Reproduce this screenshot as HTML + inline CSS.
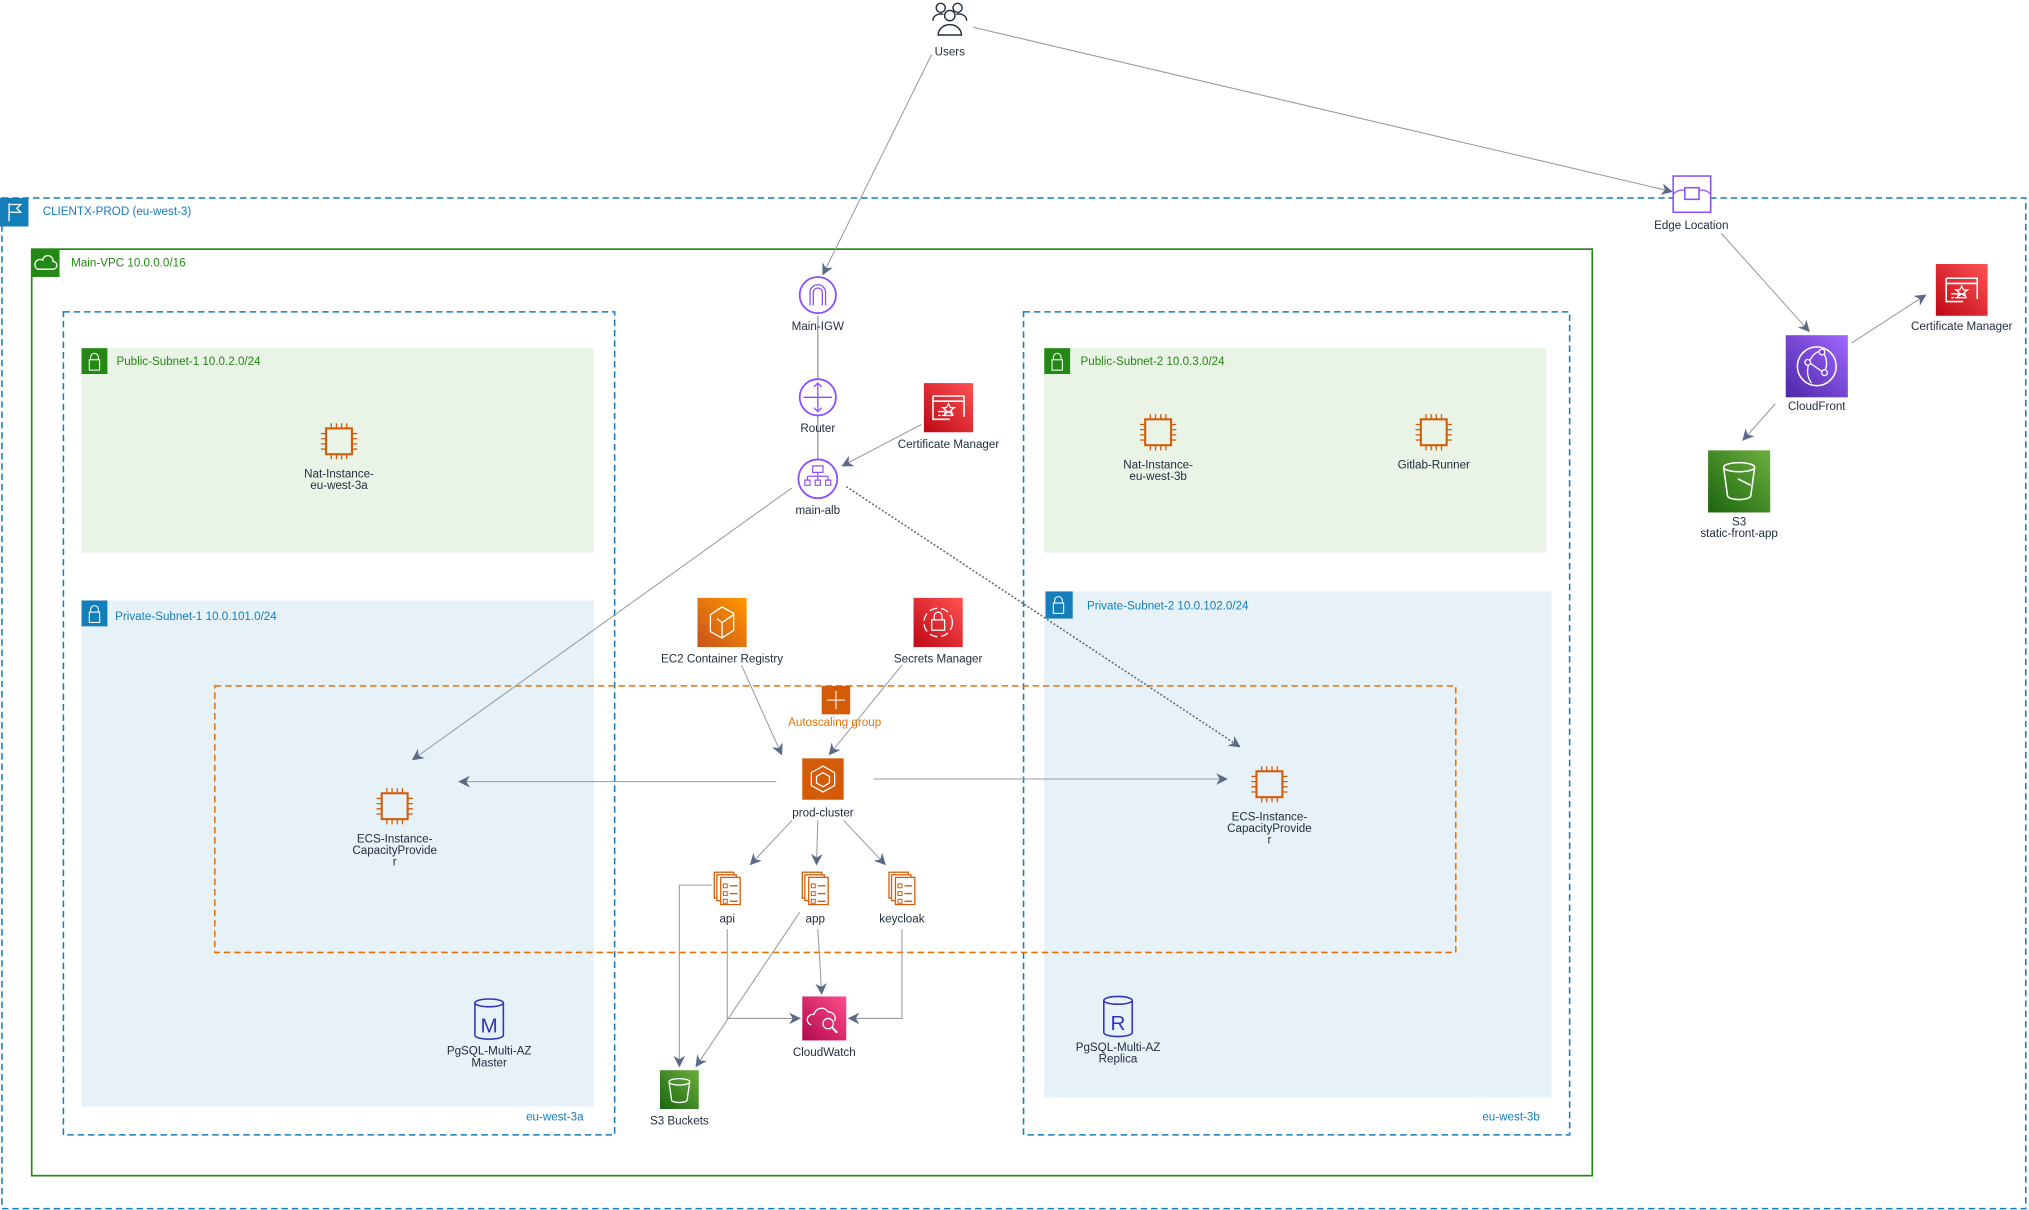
<!DOCTYPE html>
<html><head><meta charset="utf-8"><style>
html,body{margin:0;padding:0;background:#fff;}
svg{display:block;}
text{font-family:"Liberation Sans",Arial,sans-serif;font-size:9px;fill:#232F3E;}
.c{text-anchor:middle;}
.e{stroke:#999;stroke-width:0.8;fill:none;}
</style></head><body>
<svg width="2029" height="1210" viewBox="0 0 1568 935" xmlns="http://www.w3.org/2000/svg">
<defs>
<marker id="a" viewBox="0 0 10 10" refX="9" refY="5" markerWidth="9" markerHeight="9" orient="auto" markerUnits="userSpaceOnUse"><path d="M0,0 L10,5 L0,10 L3,5 z" fill="#5A6B86"/></marker>
<linearGradient id="gor" x1="0" y1="1" x2="1" y2="0"><stop offset="0" stop-color="#C8511B"/><stop offset="1" stop-color="#FF9900"/></linearGradient>
<linearGradient id="gred" x1="0" y1="1" x2="1" y2="0"><stop offset="0" stop-color="#BD0816"/><stop offset="1" stop-color="#FF5252"/></linearGradient>
<linearGradient id="ggr" x1="0" y1="1" x2="1" y2="0"><stop offset="0" stop-color="#1B660F"/><stop offset="1" stop-color="#6CAE3E"/></linearGradient>
<linearGradient id="gpu" x1="0" y1="1" x2="1" y2="0"><stop offset="0" stop-color="#4D27A8"/><stop offset="1" stop-color="#A166FF"/></linearGradient>
<linearGradient id="gpk" x1="0" y1="1" x2="1" y2="0"><stop offset="0" stop-color="#B0084D"/><stop offset="1" stop-color="#FF4F8B"/></linearGradient>
<g id="chip"><rect x="-10" y="-10" width="20" height="20" fill="none" stroke="#D45B07" stroke-width="1.6"/>
<path d="M-6,-10v-4M-2,-10v-4M2,-10v-4M6,-10v-4M-6,10v4M-2,10v4M2,10v4M6,10v4M-10,-6h-4M-10,-2h-4M-10,2h-4M-10,6h-4M10,-6h4M10,-2h4M10,2h4M10,6h4" stroke="#D45B07" stroke-width="1"/></g>
<g id="task"><rect x="-10" y="-12" width="15" height="20" fill="#fff" stroke="#D45B07"/><rect x="-8" y="-10" width="15" height="20" fill="#fff" stroke="#D45B07"/><rect x="-5" y="-8" width="15" height="21" fill="#fff" stroke="#D45B07"/>
<path d="M-3,-3h3v3h-3zM-3,3h3v3h-3zM-3,9h3v3h-3z" fill="none" stroke="#D45B07" stroke-width="0.8"/><path d="M2,-1.5h6M2,4.5h6M2,10.5h6" stroke="#D45B07"/></g>
<g id="cert"><path d="M-12,-9h24v16M-12,-9v18h13M-12,-5h24" fill="none" stroke="#fff" stroke-width="1.2"/><path d="M0,-3l1.5,3h3l-2.5,2l1,3l-3,-2l-3,2l1,-3l-2.5,-2h3z" fill="none" stroke="#fff"/><path d="M-8,6h2M-5,6h9M-8,3h10" stroke="#fff"/></g>
</defs>

<!-- containers -->
<rect x="1.5" y="153" width="1564" height="781" fill="none" stroke="#147EBA" stroke-dasharray="5,3" stroke-width="1.2"/>
<rect x="0" y="153" width="22" height="22" fill="#147EBA"/>
<path d="M7,157v14M7,158h9l-3,3l3,3h-9" fill="none" stroke="#fff"/>
<text x="33" y="166" style="fill:#147EBA">CLIENTX-PROD (eu-west-3)</text>

<rect x="24.5" y="192.5" width="1206" height="716" fill="none" stroke="#248814" stroke-width="1.3"/>
<rect x="24" y="192" width="22" height="22" fill="#248814"/>
<path d="M29,208h12a3,3 0 0 0 0,-6a4,4 0 0 0 -8,-1a3,3 0 0 0 -4,7z" fill="none" stroke="#fff"/>
<text x="55" y="206" style="fill:#248814">Main-VPC 10.0.0.0/16</text>

<rect x="49" y="241" width="426" height="636" fill="none" stroke="#147EBA" stroke-dasharray="5,3" stroke-width="1.2"/>
<text x="451" y="866" style="fill:#147EBA;text-anchor:end">eu-west-3a</text>
<rect x="791" y="241" width="422" height="636" fill="none" stroke="#147EBA" stroke-dasharray="5,3" stroke-width="1.2"/>
<text x="1190" y="866" style="fill:#147EBA;text-anchor:end">eu-west-3b</text>

<rect x="63" y="269" width="396" height="158" fill="#E9F3E6"/>
<rect x="63" y="269" width="20" height="20" fill="#248814"/>
<rect x="69" y="278" width="8" height="8" fill="none" stroke="#fff" stroke-width="0.8"/><path d="M70,278v-2a3,3 0 0 1 6,0v2" fill="none" stroke="#fff" stroke-width="0.8"/>
<text x="90" y="282" style="fill:#248814">Public-Subnet-1 10.0.2.0/24</text>

<rect x="807" y="269" width="388" height="158" fill="#E9F3E6"/>
<rect x="807" y="269" width="20" height="20" fill="#248814"/>
<rect x="813" y="278" width="8" height="8" fill="none" stroke="#fff" stroke-width="0.8"/><path d="M814,278v-2a3,3 0 0 1 6,0v2" fill="none" stroke="#fff" stroke-width="0.8"/>
<text x="835" y="282" style="fill:#248814">Public-Subnet-2 10.0.3.0/24</text>

<rect x="63" y="464" width="396" height="391" fill="#E6F2F8"/>
<rect x="63" y="464" width="20" height="20" fill="#147EBA"/>
<rect x="69" y="473" width="8" height="8" fill="none" stroke="#fff" stroke-width="0.8"/><path d="M70,473v-2a3,3 0 0 1 6,0v2" fill="none" stroke="#fff" stroke-width="0.8"/>
<text x="89" y="479" style="fill:#147EBA">Private-Subnet-1 10.0.101.0/24</text>

<rect x="807" y="457" width="392" height="391" fill="#E6F2F8"/>
<rect x="808" y="457" width="21" height="21" fill="#147EBA"/>
<rect x="814" y="466" width="8" height="8" fill="none" stroke="#fff" stroke-width="0.8"/><path d="M815,466v-2a3,3 0 0 1 6,0v2" fill="none" stroke="#fff" stroke-width="0.8"/>
<text x="840" y="471" style="fill:#147EBA">Private-Subnet-2 10.0.102.0/24</text>

<rect x="166" y="530" width="959" height="206" fill="none" stroke="#ED7100" stroke-dasharray="5,3" stroke-width="1.2"/>
<rect x="635" y="530" width="22" height="22" fill="#D45B07"/>
<path d="M646,534v14M639,541h14" stroke="#fff" stroke-width="0.8"/>
<text x="645" y="561" class="c" style="fill:#ED7100">Autoscaling group</text>

<!-- edges -->
<line class="e" x1="720" y1="42" x2="636" y2="212" marker-end="url(#a)"/>
<line class="e" x1="752" y1="21" x2="1292" y2="148" marker-end="url(#a)"/>
<line x1="632" y1="244" x2="632" y2="356" stroke="#aaa" stroke-width="1.2"/>
<line class="e" x1="712" y1="328" x2="651" y2="360" marker-end="url(#a)"/>
<line class="e" x1="612" y1="377" x2="319" y2="587" marker-end="url(#a)"/>
<line x1="654" y1="376" x2="958" y2="577" stroke="#666" stroke-width="1.2" stroke-dasharray="1.5,1.5" marker-end="url(#a)"/>
<line class="e" x1="573" y1="514" x2="604" y2="583" marker-end="url(#a)"/>
<line class="e" x1="697" y1="514" x2="641" y2="583" marker-end="url(#a)"/>
<line class="e" x1="600" y1="604" x2="355" y2="604" marker-end="url(#a)"/>
<line class="e" x1="675" y1="602" x2="948" y2="602" marker-end="url(#a)"/>
<line class="e" x1="612" y1="634" x2="580" y2="668" marker-end="url(#a)"/>
<line class="e" x1="632" y1="634" x2="631" y2="668" marker-end="url(#a)"/>
<line class="e" x1="652" y1="634" x2="684" y2="668" marker-end="url(#a)"/>
<polyline class="e" points="550,684 525,684 525,824" marker-end="url(#a)"/>
<polyline class="e" points="562,718 562,787 618,787" marker-end="url(#a)"/>
<line class="e" x1="618" y1="705" x2="538" y2="824" marker-end="url(#a)"/>
<line class="e" x1="632" y1="718" x2="635" y2="768" marker-end="url(#a)"/>
<polyline class="e" points="697,718 697,787 656,787" marker-end="url(#a)"/>
<line class="e" x1="1330" y1="180" x2="1398" y2="256" marker-end="url(#a)"/>
<line class="e" x1="1431" y1="265" x2="1488" y2="228" marker-end="url(#a)"/>
<line class="e" x1="1372" y1="312" x2="1347" y2="340" marker-end="url(#a)"/>

<!-- Users -->
<g fill="none" stroke="#232F3E" stroke-width="1.1">
<circle cx="727" cy="6" r="3.5"/><circle cx="740" cy="6" r="3.5"/><circle cx="734" cy="12" r="4"/>
<path d="M721,16a6,5 0 0 1 8,-5M747,16a6,5 0 0 0 -8,-5M725,27a9,8 0 0 1 18,0z"/></g>
<text x="734" y="43" class="c">Users</text>

<!-- IGW, Router, ALB -->
<g fill="#fff" stroke="#8C4FFF" stroke-width="1.4">
<circle cx="632" cy="228" r="14"/><circle cx="632" cy="307" r="14"/><circle cx="632" cy="370" r="15"/></g>
<path d="M626,236v-10a6,6 0 0 1 12,0v10M628.5,236v-10a3.5,3.5 0 0 1 7,0v10" fill="none" stroke="#8C4FFF"/>
<path d="M632,296v22M621,307h22M629,299l3,-3l3,3M629,315l3,3l3,-3" fill="none" stroke="#8C4FFF"/>
<path d="M628,360h8v5h-8zM632,365v3M624,368h16M624,368v3M632,368v3M640,368v3M622,371h4v4h-4zM630,371h4v4h-4zM638,371h4v4h-4z" fill="none" stroke="#8C4FFF" stroke-width="0.9"/>
<text x="632" y="255" class="c">Main-IGW</text>
<text x="632" y="334" class="c">Router</text>
<text x="632" y="397" class="c">main-alb</text>

<!-- Cert manager inner -->
<rect x="714" y="296" width="38" height="38" fill="url(#gred)"/>
<use href="#cert" x="733" y="315"/>
<text x="733" y="346" class="c">Certificate Manager</text>

<!-- ECR, Secrets -->
<rect x="539" y="462" width="38" height="38" fill="url(#gor)"/>
<path d="M549,475l9,-6l9,5v13l-9,6l-9,-5zM558,493v-12l9,-6M558,481l-4,-3" fill="none" stroke="#fff"/>
<text x="558" y="512" class="c">EC2 Container Registry</text>
<rect x="706" y="462" width="38" height="38" fill="url(#gred)"/>
<circle cx="725" cy="481" r="11" fill="none" stroke="#fff" stroke-dasharray="6,3"/>
<rect x="720" y="479" width="10" height="8" fill="none" stroke="#fff"/><path d="M722,479v-3a3,3 0 0 1 6,0v3" fill="none" stroke="#fff"/>
<text x="725" y="512" class="c">Secrets Manager</text>

<!-- prod-cluster -->
<rect x="620" y="586" width="32" height="32" fill="#D45B07"/>
<path d="M636,592l9,5v10l-9,5l-9,-5v-10zM636,597l5,3v5l-5,3l-5,-3v-5z" fill="none" stroke="#fff"/>
<text x="636" y="631" class="c">prod-cluster</text>

<use href="#task" x="562" y="686"/><text x="562" y="713" class="c">api</text>
<use href="#task" x="630" y="686"/><text x="630" y="713" class="c">app</text>
<use href="#task" x="697" y="686"/><text x="697" y="713" class="c">keycloak</text>

<!-- CloudWatch -->
<rect x="620" y="770" width="34" height="34" fill="url(#gpk)"/>
<path d="M627,792a4,4 0 0 1 2,-8a6,6 0 0 1 11,-2a5,5 0 0 1 5,7" fill="none" stroke="#fff"/><circle cx="640" cy="791" r="4" fill="none" stroke="#fff"/><path d="M643,794l4,4" stroke="#fff" stroke-width="1.5"/>
<text x="637" y="816" class="c">CloudWatch</text>

<!-- S3 buckets -->
<rect x="510" y="827" width="30" height="30" fill="url(#ggr)"/>
<ellipse cx="525" cy="836" rx="8" ry="2.5" fill="none" stroke="#fff"/><path d="M517,836l2,14a6,2 0 0 0 12,0l2,-14" fill="none" stroke="#fff"/>
<text x="525" y="869" class="c">S3 Buckets</text>

<!-- chips -->
<use href="#chip" x="262" y="341"/><text x="262" y="369" class="c">Nat-Instance-</text><text x="262" y="378" class="c">eu-west-3a</text>
<use href="#chip" x="895" y="334"/><text x="895" y="362" class="c">Nat-Instance-</text><text x="895" y="371" class="c">eu-west-3b</text>
<use href="#chip" x="1108" y="334"/><text x="1108" y="362" class="c">Gitlab-Runner</text>
<use href="#chip" x="305" y="623"/><text x="305" y="651" class="c">ECS-Instance-</text><text x="305" y="660" class="c">CapacityProvide</text><text x="305" y="669" class="c">r</text>
<use href="#chip" x="981" y="606"/><text x="981" y="634" class="c">ECS-Instance-</text><text x="981" y="643" class="c">CapacityProvide</text><text x="981" y="652" class="c">r</text>

<!-- DBs -->
<g fill="none" stroke="#3334B9" stroke-width="1.2">
<ellipse cx="378" cy="775" rx="11" ry="3"/><path d="M367,775v25a11,3 0 0 0 22,0v-25"/>
<ellipse cx="864" cy="773" rx="11" ry="3"/><path d="M853,773v25a11,3 0 0 0 22,0v-25"/></g>
<text x="378" y="798" class="c" style="fill:#3334B9;font-size:16px">M</text>
<text x="864" y="796" class="c" style="fill:#3334B9;font-size:16px">R</text>
<text x="378" y="815" class="c">PgSQL-Multi-AZ</text><text x="378" y="824" class="c">Master</text>
<text x="864" y="812" class="c">PgSQL-Multi-AZ</text><text x="864" y="821" class="c">Replica</text>

<!-- Edge location -->
<rect x="1293" y="136" width="29" height="28" fill="#fff" stroke="#8C4FFF" stroke-width="1.2"/>
<rect x="1302" y="145" width="11" height="9" fill="none" stroke="#8C4FFF" stroke-width="1.2"/>
<path d="M1293,150q4,-4 9,-3M1313,147q5,-1 9,3" fill="none" stroke="#8C4FFF"/>
<text x="1307" y="177" class="c">Edge Location</text>

<!-- CloudFront -->
<rect x="1380" y="259" width="48" height="48" fill="url(#gpu)"/>
<circle cx="1404" cy="283" r="15" fill="none" stroke="#fff" stroke-width="1.2"/>
<path d="M1398,280q3,-8 10,-9M1398,280l10,7M1398,280q-3,10 2,16M1408,271q6,8 2,16" fill="none" stroke="#fff"/>
<circle cx="1408" cy="272" r="2.2" fill="#7b3fe0" stroke="#fff"/><circle cx="1397" cy="280" r="2.2" fill="#7b3fe0" stroke="#fff"/><circle cx="1410" cy="288" r="2.2" fill="#7b3fe0" stroke="#fff"/>
<text x="1404" y="317" class="c">CloudFront</text>

<rect x="1496" y="204" width="40" height="40" fill="url(#gred)"/>
<use href="#cert" x="1516" y="224"/>
<text x="1516" y="255" class="c">Certificate Manager</text>

<rect x="1320" y="348" width="48" height="48" fill="url(#ggr)"/>
<ellipse cx="1344" cy="361" rx="12" ry="3.5" fill="none" stroke="#fff" stroke-width="1.2"/><path d="M1332,361l3,22a9,3 0 0 0 18,0l3,-22M1343,370l10,5" fill="none" stroke="#fff" stroke-width="1.2"/>
<text x="1344" y="406" class="c">S3</text><text x="1344" y="415" class="c">static-front-app</text>
</svg>
</body></html>
